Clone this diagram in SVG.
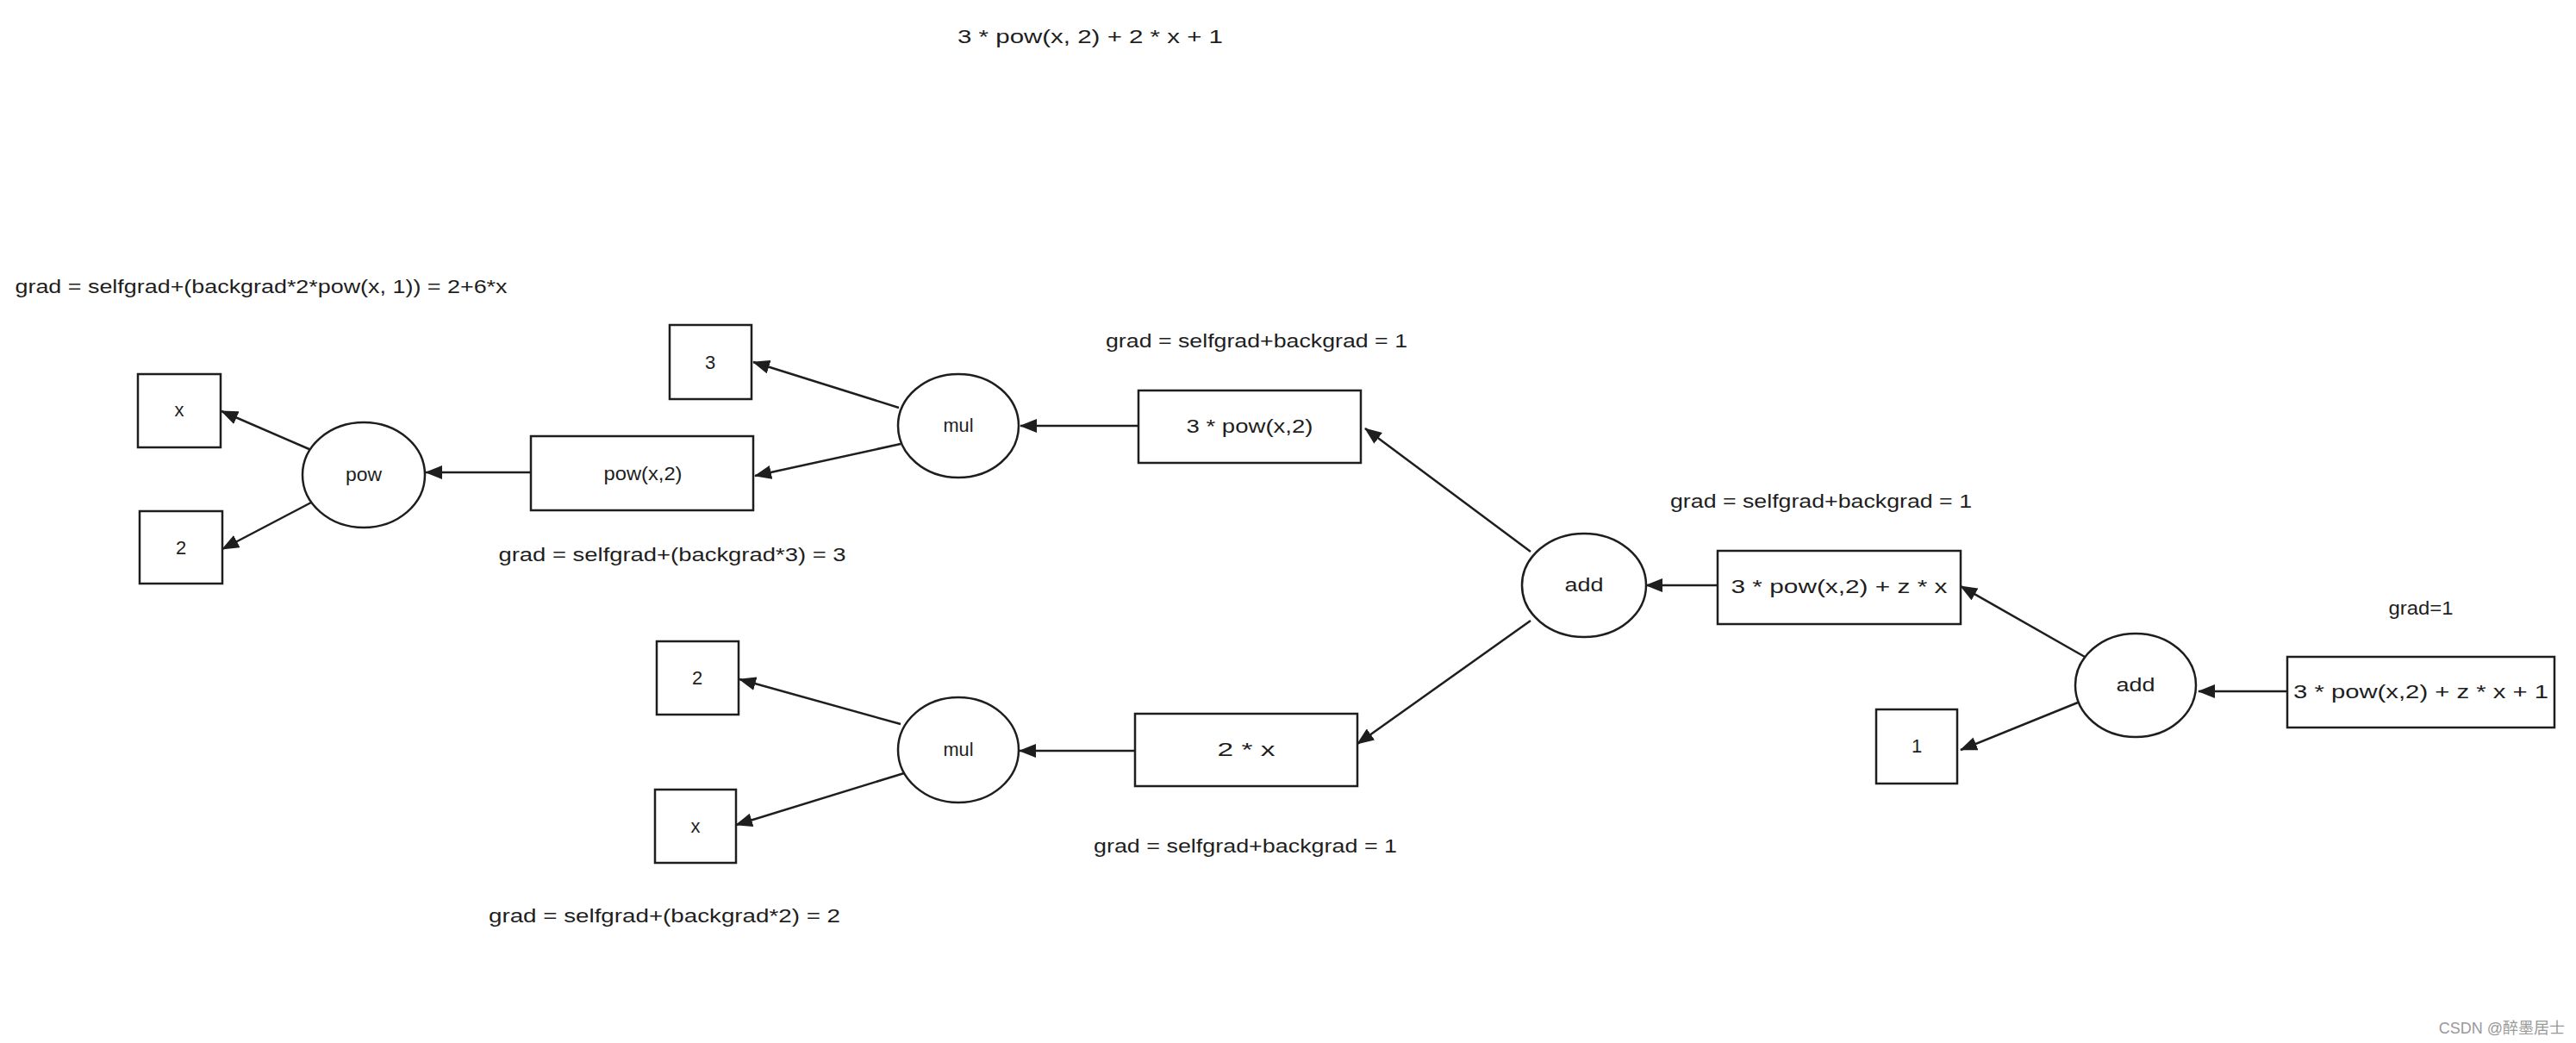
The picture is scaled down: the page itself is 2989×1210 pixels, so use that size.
<svg xmlns="http://www.w3.org/2000/svg" width="2989" height="1210" viewBox="0 0 2989 1210">
<style>
.n{fill:#ffffff;stroke:#1e1e1e;stroke-width:2.5}
.t{font-family:"Liberation Sans",sans-serif;font-size:22px;fill:#1e1e1e;text-anchor:middle}
.c{stroke:#1e1e1e;stroke-width:2.5;fill:none;marker-end:url(#ah)}
</style>
<defs>
<marker id="ah" markerUnits="userSpaceOnUse" viewBox="0 0 20 16" markerWidth="20" markerHeight="16" refX="19" refY="8" orient="auto">
<path d="M0,0 L20,8 L0,16 Z" fill="#1e1e1e"/>
</marker>
</defs>
<rect width="2989" height="1210" fill="#ffffff"/>
<g id="labels">
<text class="t" x="1265" y="50" textLength="308" lengthAdjust="spacingAndGlyphs">3 * pow(x, 2) + 2 * x + 1</text>
<text class="t" x="303" y="340" textLength="571" lengthAdjust="spacingAndGlyphs">grad = selfgrad+(backgrad*2*pow(x, 1)) = 2+6*x</text>
<text class="t" x="1458" y="403" textLength="350" lengthAdjust="spacingAndGlyphs">grad = selfgrad+backgrad = 1</text>
<text class="t" x="780" y="651" textLength="403" lengthAdjust="spacingAndGlyphs">grad = selfgrad+(backgrad*3) = 3</text>
<text class="t" x="2113" y="589" textLength="350" lengthAdjust="spacingAndGlyphs">grad = selfgrad+backgrad = 1</text>
<text class="t" x="2809" y="713" textLength="75" lengthAdjust="spacingAndGlyphs">grad=1</text>
<text class="t" x="1445" y="989" textLength="352" lengthAdjust="spacingAndGlyphs">grad = selfgrad+backgrad = 1</text>
<text class="t" x="771" y="1070" textLength="408" lengthAdjust="spacingAndGlyphs">grad = selfgrad+(backgrad*2) = 2</text>
<text x="2976" y="1199" font-family="'Liberation Sans','Noto Sans CJK SC',sans-serif" font-size="18" fill="#999999" text-anchor="end">CSDN @醉墨居士</text>
</g>
<g id="connectors">
<line class="c" x1="616" y1="548" x2="494" y2="548"/>
<line class="c" x1="361" y1="522" x2="257" y2="477"/>
<line class="c" x1="361" y1="583" x2="258" y2="637"/>
<line class="c" x1="1043" y1="473" x2="874" y2="420"/>
<line class="c" x1="1045" y1="515" x2="876" y2="552"/>
<line class="c" x1="1321" y1="494" x2="1184" y2="494"/>
<line class="c" x1="1776" y1="640" x2="1584" y2="497"/>
<line class="c" x1="1776" y1="720" x2="1575" y2="863"/>
<line class="c" x1="1317" y1="871" x2="1183" y2="871"/>
<line class="c" x1="1045" y1="840" x2="858" y2="788"/>
<line class="c" x1="1049" y1="897" x2="854" y2="957"/>
<line class="c" x1="1993" y1="679" x2="1910" y2="679"/>
<line class="c" x1="2419" y1="762" x2="2275" y2="680"/>
<line class="c" x1="2411" y1="815" x2="2275" y2="870"/>
<line class="c" x1="2654" y1="802" x2="2551" y2="802"/>
</g>
<g id="node-x1"><rect class="n" x="160" y="434" width="96" height="85"/><text class="t" x="208" y="483">x</text></g>
<g id="node-two1"><rect class="n" x="162" y="593" width="96" height="84"/><text class="t" x="210" y="643">2</text></g>
<g id="node-pow"><ellipse class="n" cx="422" cy="551" rx="71" ry="61"/><text class="t" x="422" y="558" textLength="42" lengthAdjust="spacingAndGlyphs">pow</text></g>
<g id="node-powx2"><rect class="n" x="616" y="506" width="258" height="86"/><text class="t" x="746" y="557" textLength="91" lengthAdjust="spacingAndGlyphs">pow(x,2)</text></g>
<g id="node-three"><rect class="n" x="777" y="377" width="95" height="86"/><text class="t" x="824" y="428">3</text></g>
<g id="node-mul1"><ellipse class="n" cx="1112" cy="494" rx="70" ry="60"/><text class="t" x="1112" y="501" textLength="35" lengthAdjust="spacingAndGlyphs">mul</text></g>
<g id="node-3powx2"><rect class="n" x="1321" y="453" width="258" height="84"/><text class="t" x="1450" y="502" textLength="147" lengthAdjust="spacingAndGlyphs">3 * pow(x,2)</text></g>
<g id="node-two2"><rect class="n" x="762" y="744" width="95" height="85"/><text class="t" x="809" y="794">2</text></g>
<g id="node-x2"><rect class="n" x="760" y="916" width="94" height="85"/><text class="t" x="807" y="966">x</text></g>
<g id="node-mul2"><ellipse class="n" cx="1112" cy="870" rx="70" ry="61"/><text class="t" x="1112" y="877" textLength="35" lengthAdjust="spacingAndGlyphs">mul</text></g>
<g id="node-2x"><rect class="n" x="1317" y="828" width="258" height="84"/><text class="t" x="1446" y="877" textLength="67" lengthAdjust="spacingAndGlyphs">2 * x</text></g>
<g id="node-add1"><ellipse class="n" cx="1838" cy="679" rx="72" ry="60"/><text class="t" x="1838" y="686" textLength="45" lengthAdjust="spacingAndGlyphs">add</text></g>
<g id="node-sum1"><rect class="n" x="1993" y="639" width="282" height="85"/><text class="t" x="2134" y="688" textLength="251" lengthAdjust="spacingAndGlyphs">3 * pow(x,2) + z * x</text></g>
<g id="node-add2"><ellipse class="n" cx="2478" cy="795" rx="70" ry="60"/><text class="t" x="2478" y="802" textLength="45" lengthAdjust="spacingAndGlyphs">add</text></g>
<g id="node-one"><rect class="n" x="2177" y="823" width="94" height="86"/><text class="t" x="2224" y="873">1</text></g>
<g id="node-sum2"><rect class="n" x="2654" y="762" width="310" height="82"/><text class="t" x="2809" y="810" textLength="296" lengthAdjust="spacingAndGlyphs">3 * pow(x,2) + z * x + 1</text></g>
</svg>
